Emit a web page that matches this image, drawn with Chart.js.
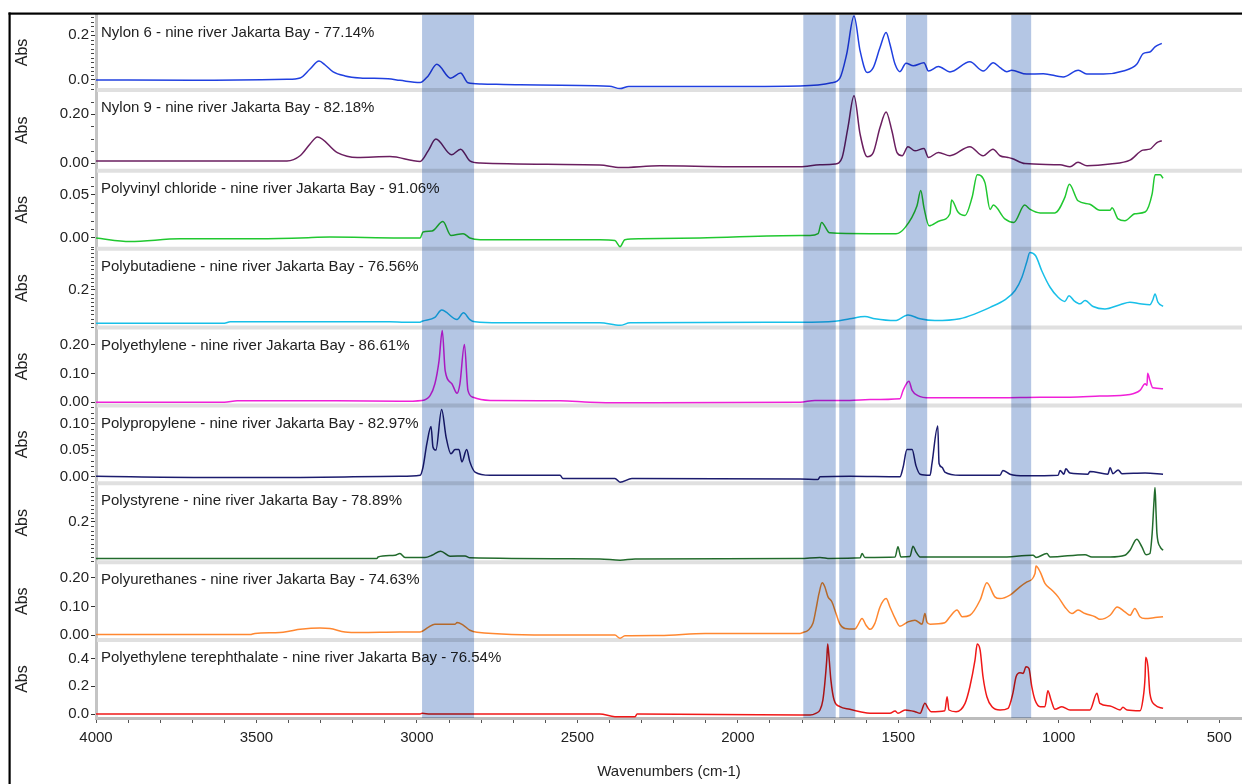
<!DOCTYPE html>
<html><head><meta charset="utf-8">
<script src="https://cdn.jsdelivr.net/npm/chart.js@4.4.1/dist/chart.umd.min.js"></script>
<style>html,body{margin:0;padding:0;background:#fff;}canvas{display:block;}</style>
</head><body>
<canvas id="c" width="1242" height="784"></canvas>
<script>
// ---------- DATA (wavenumber cm-1, absorbance) ----------
const panelNames = [
  'Nylon 6 - nine river Jakarta Bay - 77.14%',
  'Nylon 9 - nine river Jakarta Bay - 82.18%',
  'Polyvinyl chloride - nine river Jakarta Bay - 91.06%',
  'Polybutadiene - nine river Jakarta Bay - 76.56%',
  'Polyethylene - nine river Jakarta Bay - 86.61%',
  'Polypropylene - nine river Jakarta Bay - 82.97%',
  'Polystyrene - nine river Jakarta Bay - 78.89%',
  'Polyurethanes - nine river Jakarta Bay - 74.63%',
  'Polyethylene terephthalate - nine river Jakarta Bay - 76.54%'
];

const nylon6 = [[4000,0],[3700,-0.002],[3405,0.003],[3364,0.009],[3333,0.049],[3305,0.085],[3286,0.067],[3261,0.036],[3224,0.018],[3177,0.009],[3090,0.005],[3053,-0.002],[2990,-0.012],[2965,0.018],[2938,0.070],[2895,0.008],[2864,0.031],[2841,-0.013],[2800,-0.018],[2679,-0.022],[2400,-0.028],[2367,-0.039],[2340,-0.029],[2000,-0.029],[1806,-0.027],[1708,-0.013],[1682,0.008],[1661,0.115],[1638,0.286],[1619,0.13],[1597,0.033],[1578,0.055],[1557,0.145],[1538,0.212],[1526,0.16],[1510,0.07],[1495,0.037],[1476,0.075],[1453,0.063],[1420,0.077],[1406,0.040],[1375,0.060],[1339,0.036],[1277,0.081],[1235,0.040],[1204,0.077],[1183,0.055],[1162,0.037],[1147,0.043],[1100,0.026],[1048,0.028],[986,0.013],[939,0.043],[913,0.026],[861,0.026],[799,0.040],[757,0.070],[737,0.118],[716,0.125],[700,0.148],[679,0.164]];

const nylon9 = [[4000,0.009],[3700,0.009],[3405,0.009],[3364,0.030],[3333,0.078],[3310,0.107],[3248,0.043],[3186,0.023],[3084,0.027],[2990,0.007],[2965,0.050],[2941,0.098],[2892,0.034],[2864,0.057],[2835,0.009],[2803,0],[2430,-0.008],[2367,-0.018],[2243,-0.011],[2024,-0.015],[1806,-0.015],[1744,-0.007],[1697,-0.004],[1675,0.023],[1657,0.145],[1638,0.275],[1619,0.118],[1597,0.026],[1578,0.043],[1557,0.145],[1538,0.209],[1520,0.132],[1504,0.043],[1488,0.030],[1470,0.067],[1448,0.050],[1420,0.060],[1406,0.023],[1375,0.043],[1339,0.030],[1277,0.067],[1236,0.030],[1205,0.057],[1183,0.030],[1158,0.023],[1146,0.019],[1105,-0.002],[996,-0.007],[965,-0.015],[940,0.003],[912,-0.011],[840,-0.004],[778,0.012],[738,0.053],[716,0.057],[694,0.084],[679,0.091]];

const pvc = [[4000,0],[3894,-0.004],[3738,-0.001],[3520,-0.001],[3364,0],[3271,0.001],[3053,0],[2990,0],[2981,0.007],[2953,0.008],[2919,0.019],[2894,0.003],[2856,0.005],[2835,0],[2803,-0.002],[2430,-0.002],[2383,-0.003],[2367,-0.010],[2352,-0.002],[2305,-0.001],[2118,0],[1806,0.003],[1775,0.003],[1750,0.005],[1739,0.018],[1714,0.006],[1588,0.005],[1507,0.005],[1479,0.012],[1442,0.037],[1430,0.055],[1420,0.035],[1404,0.014],[1370,0.020],[1339,0.028],[1334,0.044],[1314,0.030],[1292,0.026],[1270,0.047],[1254,0.073],[1230,0.064],[1214,0.033],[1204,0.038],[1168,0.022],[1140,0.018],[1106,0.038],[1089,0.033],[1058,0.029],[1012,0.029],[981,0.047],[967,0.062],[940,0.043],[903,0.039],[872,0.032],[840,0.032],[834,0.035],[815,0.022],[794,0.020],[763,0.028],[731,0.030],[709,0.051],[700,0.073],[684,0.073],[675,0.069]];

const polybutadiene = [[4000,0.037],[3600,0.037],[3582,0.044],[3395,0.045],[3209,0.045],[3084,0.045],[3037,0.042],[2990,0.042],[2984,0.047],[2944,0.066],[2923,0.102],[2875,0.055],[2855,0.088],[2835,0.055],[2819,0.044],[2741,0.039],[2430,0.039],[2367,0.027],[2336,0.039],[1806,0.042],[1697,0.047],[1651,0.059],[1604,0.070],[1573,0.059],[1510,0.050],[1470,0.078],[1432,0.059],[1386,0.050],[1308,0.059],[1261,0.083],[1214,0.115],[1168,0.151],[1136,0.197],[1115,0.261],[1100,0.335],[1090,0.383],[1072,0.367],[1053,0.294],[1027,0.213],[1002,0.164],[981,0.144],[968,0.172],[953,0.148],[934,0.132],[918,0.148],[893,0.119],[856,0.107],[809,0.128],[778,0.140],[747,0.132],[716,0.127],[707,0.151],[700,0.180],[691,0.140],[675,0.120]];

const polyethylene = [[4000,0],[3600,0],[3560,0.005],[3250,0.005],[3053,0.003],[2984,0.006],[2959,0.023],[2944,0.064],[2931,0.145],[2921,0.250],[2912,0.110],[2891,0.064],[2875,0.031],[2866,0.064],[2852,0.201],[2841,0.041],[2825,0.017],[2772,0.006],[2554,0.005],[2461,0],[2367,-0.002],[1806,0],[1760,0.006],[1651,0.006],[1588,0.009],[1495,0.012],[1485,0.041],[1467,0.073],[1457,0.041],[1439,0.023],[1401,0.015],[1183,0.015],[1058,0.017],[965,0.017],[872,0.021],[778,0.027],[747,0.041],[731,0.064],[725,0.058],[723,0.101],[716,0.076],[707,0.050],[675,0.047]];

const polypropylene = [[4000,0.001],[3676,-0.001],[3364,-0.001],[3053,0.001],[2990,0.003],[2981,0.018],[2969,0.062],[2956,0.094],[2950,0.056],[2941,0.050],[2923,0.126],[2909,0.074],[2894,0.043],[2881,0.051],[2869,0.051],[2860,0.028],[2845,0.051],[2835,0.028],[2819,0.009],[2772,0.003],[2554,0.003],[2545,-0.003],[2383,-0.003],[2367,-0.010],[2330,-0.003],[1806,-0.004],[1750,-0.005],[1744,0],[1651,0.001],[1495,0],[1485,0.018],[1473,0.051],[1457,0.051],[1445,0.021],[1432,0.005],[1401,0.003],[1395,0.025],[1377,0.095],[1373,0.025],[1364,0.018],[1355,0.009],[1308,0.003],[1183,0.003],[1174,0.012],[1152,0.005],[1105,0.002],[1002,0.003],[996,0.012],[984,0.005],[978,0.015],[965,0.007],[909,0.005],[903,0.010],[847,0.005],[840,0.017],[831,0.006],[815,0.013],[803,0.006],[731,0.007],[675,0.005]];

const polystyrene = [[4000,0.031],[3125,0.031],[3121,0.038],[3068,0.046],[3053,0.054],[3037,0.036],[3028,0.036],[2975,0.036],[2953,0.046],[2926,0.065],[2897,0.042],[2850,0.043],[2835,0.034],[2430,0.029],[2367,0.023],[2320,0.029],[1806,0.031],[1744,0.036],[1713,0.031],[1619,0.034],[1613,0.054],[1604,0.036],[1510,0.038],[1501,0.085],[1492,0.038],[1464,0.040],[1454,0.088],[1445,0.062],[1432,0.038],[1183,0.038],[1080,0.046],[1071,0.036],[1037,0.054],[1027,0.038],[918,0.049],[897,0.038],[840,0.038],[794,0.046],[778,0.069],[757,0.120],[741,0.085],[728,0.049],[716,0.054],[709,0.146],[703,0.30],[700,0.36],[697,0.25],[694,0.146],[684,0.085],[675,0.069]];

const polyurethanes = [[4000,0.002],[3520,0.002],[3505,0.006],[3427,0.009],[3395,0.014],[3364,0.020],[3302,0.025],[3271,0.023],[3224,0.011],[3177,0.009],[3053,0.011],[2990,0.011],[2965,0.027],[2944,0.038],[2881,0.038],[2875,0.044],[2856,0.035],[2835,0.017],[2813,0.010],[2554,0],[2383,0],[2367,-0.011],[2352,-0.002],[2243,-0.001],[2102,0.006],[1806,0.006],[1797,0.009],[1781,0.017],[1766,0.041],[1757,0.087],[1747,0.145],[1737,0.182],[1729,0.168],[1719,0.133],[1707,0.116],[1694,0.075],[1682,0.038],[1666,0.023],[1635,0.021],[1626,0.035],[1613,0.058],[1601,0.035],[1588,0.020],[1573,0.041],[1557,0.098],[1538,0.127],[1526,0.098],[1510,0.058],[1495,0.031],[1470,0.046],[1448,0.052],[1426,0.038],[1417,0.075],[1411,0.046],[1401,0.038],[1355,0.043],[1339,0.064],[1317,0.087],[1301,0.064],[1277,0.069],[1245,0.122],[1224,0.182],[1199,0.133],[1183,0.127],[1152,0.139],[1121,0.168],[1099,0.185],[1074,0.214],[1071,0.240],[1058,0.220],[1043,0.180],[1021,0.156],[1002,0.133],[981,0.098],[959,0.075],[940,0.087],[918,0.075],[887,0.064],[872,0.055],[840,0.069],[818,0.098],[794,0.081],[778,0.069],[763,0.093],[747,0.064],[731,0.058],[700,0.061],[675,0.064]];

const pet = [[4000,0],[3364,0],[2990,0],[2984,0.005],[2959,0],[2430,0],[2383,-0.019],[2320,-0.019],[2314,0],[1806,-0.007],[1775,-0.007],[1757,0.005],[1744,0.029],[1735,0.101],[1729,0.221],[1723,0.389],[1720,0.505],[1716,0.413],[1710,0.245],[1700,0.101],[1682,0.053],[1651,0.034],[1619,0.017],[1588,0.005],[1526,0.005],[1510,0.022],[1501,0.005],[1479,0.029],[1448,0.017],[1432,0.005],[1417,0.077],[1407,0.041],[1398,0.017],[1355,0.024],[1348,0.125],[1342,0.029],[1320,0.017],[1292,0.077],[1277,0.197],[1261,0.389],[1254,0.505],[1245,0.461],[1236,0.269],[1224,0.125],[1208,0.053],[1183,0.029],[1158,0.041],[1143,0.149],[1133,0.269],[1121,0.298],[1111,0.293],[1102,0.341],[1093,0.329],[1084,0.197],[1074,0.101],[1058,0.053],[1043,0.053],[1034,0.168],[1024,0.101],[1012,0.034],[990,0.053],[965,0.029],[903,0.029],[881,0.149],[872,0.077],[840,0.058],[809,0.029],[800,0.048],[787,0.029],[747,0.024],[738,0.101],[731,0.269],[729,0.409],[722,0.341],[716,0.149],[700,0.065],[675,0.041]];

const seriesData = [nylon6, nylon9, pvc, polybutadiene, polyethylene, polypropylene, polystyrene, polyurethanes, pet];

// highlighted wavenumber bands [from, to]
const bands = [[2984,2822],[1796,1695],[1684,1634],[1476,1410],[1148,1086]];

// axis ticks
const xLabelValues = [4000,3500,3000,2500,2000,1500,1000,500];
const yTicks = [[0,0.2],[0,0.2],[0,0.05],[0.2],[0,0.1,0.2],[0,0.05,0.1],[0.2],[0,0.1,0.2],[0,0.2,0.4]];
const yDecimals = [1,2,2,1,2,2,1,2,1];

// ---------- STYLE / LAYOUT ----------
const panelColors = ['#2040e0','#6b1f60','#20c830','#18bfe8','#f020d8','#1c1c6e','#226b2c','#ff8730','#f01818'];
const yMins = [-0.0447,-0.0314,-0.01236,0.0161,-0.0115,-0.01215,0.01386,-0.01736,-0.0288];
const yMaxs = [0.291,0.299,0.0777,0.4016,0.260,0.1336,0.3788,0.2535,0.5335];
const panelHeights = [75,81,78,79,78,78,79,78,78];
const minorSteps = [0.02,0.05,0.01,0.02,0,0.01,0.02,0,0];
const xMin = 429, xMax = 4000;
const FONT = "'Liberation Sans', Arial, Helvetica, sans-serif";

Chart.defaults.font.family = FONT;
Chart.defaults.font.size = 15;
Chart.defaults.color = '#222';

const xTickValues = [];
for (let v = 4000; v >= 500; v -= 100) xTickValues.push(v);

const scales = {
  x: {
    type: 'linear', reverse: true, min: xMin, max: xMax,
    afterBuildTicks: s => { s.ticks = xTickValues.map(v => ({value: v})); },
    ticks: { autoSkip: false, maxRotation: 0, minRotation: 0, padding: 6, color: '#222', font: {size: 15},
      callback: v => xLabelValues.includes(v) ? String(v) : '' },
    grid: { drawOnChartArea: false, drawTicks: true, tickLength: 5, tickColor: '#555', tickWidth: 1 },
    border: { display: true, color: '#bdbdbd', width: 3 },
    title: { display: true, text: 'Wavenumbers (cm-1)', font: {size: 15}, color: '#222', padding: {top: 16, bottom: 0} },
    afterFit: s => { s.height = 63; }
  }
};
panelNames.forEach((name, i) => {
  scales['y' + i] = {
    type: 'linear', position: 'left', stack: 'spectra', stackWeight: panelHeights[i], weight: 20 - i,
    min: yMins[i], max: yMaxs[i],
    afterBuildTicks: s => { s.ticks = yTicks[i].map(v => ({value: v})); },
    ticks: { padding: 2, autoSkip: false, font: {size: 15}, color: '#222',
      callback: v => Number(v).toFixed(yDecimals[i]) },
    grid: { drawOnChartArea: false, drawTicks: true, tickLength: 5, tickColor: '#333', tickWidth: 1 },
    border: { display: true, color: '#c4c4c4', width: 3 },
    title: { display: true, text: 'Abs', font: {size: 16}, color: '#222', padding: {top: 3, bottom: 0} },
    afterFit: s => { s.width = 86; }
  };
});

const decor = {
  id: 'decor',
  beforeDraw(chart) {
    const c = chart.ctx;
    c.save(); c.fillStyle = '#fff'; c.fillRect(0, 0, chart.width, chart.height); c.restore();
  },
  beforeDatasetsDraw(chart) {
    const c = chart.ctx, a = chart.chartArea;
    c.save();
    c.strokeStyle = '#e0e0e0'; c.lineWidth = 4;
    for (let i = 1; i < panelNames.length; i++) {
      const y = chart.scales['y' + i].top;
      c.beginPath(); c.moveTo(a.left + 1, y); c.lineTo(a.right, y); c.stroke();
    }
    c.restore();
  },
  afterDatasetsDraw(chart) {
    const c = chart.ctx, a = chart.chartArea, xs = chart.scales.x;
    c.save();
    c.font = '15px ' + FONT; c.fillStyle = '#222'; c.textBaseline = 'middle'; c.textAlign = 'left';
    panelNames.forEach((name, i) => {
      c.fillText(name, a.left + 5, chart.scales['y' + i].top + 18);
    });
    c.globalCompositeOperation = 'multiply';
    c.fillStyle = 'rgb(180,198,228)';
    bands.forEach(b => {
      const x1 = xs.getPixelForValue(b[0]), x2 = xs.getPixelForValue(b[1]);
      c.fillRect(x1, a.top, x2 - x1, a.bottom - a.top);
    });
    c.restore();
  },
  afterDraw(chart) {
    const c = chart.ctx, a = chart.chartArea;
    c.save();
    c.strokeStyle = '#444'; c.lineWidth = 1;
    panelNames.forEach((name, i) => {
      const st = minorSteps[i]; if (!st) return;
      const s = chart.scales['y' + i];
      for (let k = Math.ceil(s.min / st); k * st <= s.max; k++) {
        const v = k * st;
        if (yTicks[i].some(t => Math.abs(t - v) < 1e-9)) continue;
        const y = Math.round(s.getPixelForValue(v)) + 0.5;
        c.beginPath(); c.moveTo(a.left - 5, y); c.lineTo(a.left - 2, y); c.stroke();
      }
    });
    c.fillStyle = '#000';
    c.fillRect(8.5, 12.5, 2.2, chart.height);
    c.fillRect(8.5, 12.5, chart.width, 2.2);
    c.restore();
  }
};

new Chart(document.getElementById('c'), {
  type: 'line',
  data: {
    datasets: seriesData.map((d, i) => ({
      label: panelNames[i],
      data: d.map(p => ({x: p[0], y: p[1]})),
      yAxisID: 'y' + i,
      borderColor: panelColors[i],
      borderWidth: 1.5,
      borderJoinStyle: 'round',
      pointRadius: 0,
      fill: false,
      cubicInterpolationMode: 'monotone'
    }))
  },
  options: {
    responsive: false, animation: false, devicePixelRatio: 1, events: [],
    layout: { padding: {left: 10, top: 15, right: 0, bottom: 3} },
    plugins: { legend: {display: false}, tooltip: {enabled: false} },
    scales
  },
  plugins: [decor]
});
</script>
</body></html>
